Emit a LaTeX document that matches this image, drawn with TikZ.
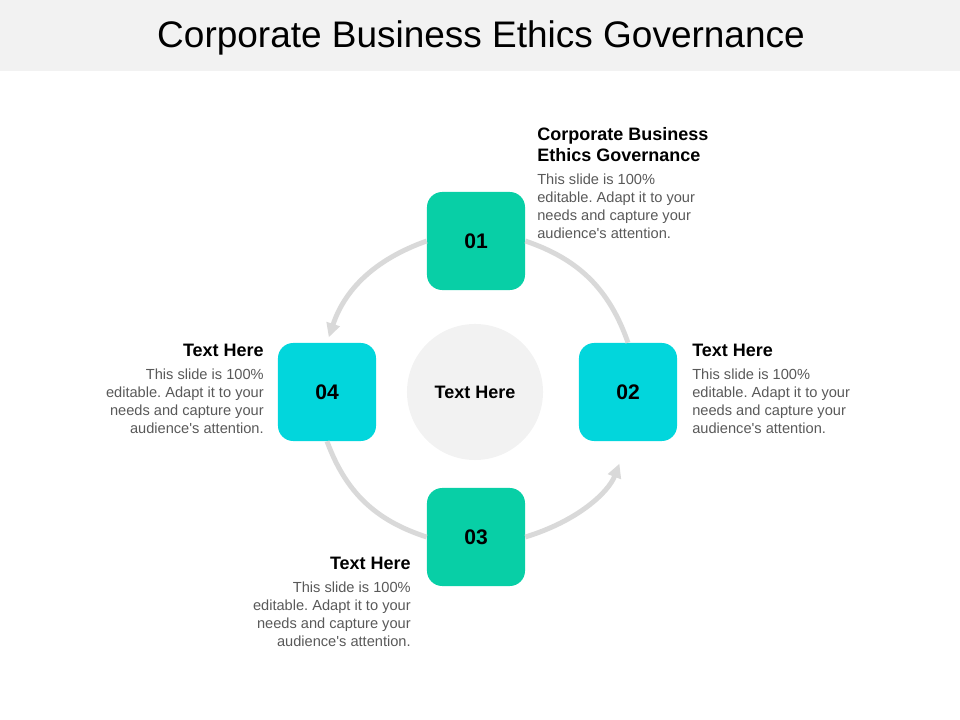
\documentclass[tikz,border=0pt]{standalone}
\usepackage{fontspec}
\setmainfont{Liberation Sans}
\usetikzlibrary{arrows.meta,
                positioning}
\definecolor{band}{RGB}{242,242,242}
\definecolor{tealbox}{RGB}{8,207,166}
\definecolor{cyanbox}{RGB}{2,214,220}
\definecolor{ring}{RGB}{217,217,217}
\definecolor{bodygray}{RGB}{89,89,89}
\frenchspacing
\tikzset{
  numbox/.style={%
    rounded corners=0.38cm,
    minimum width=2.45cm,
    minimum height=2.45cm,
    inner sep=0,
    font=\fontsize{15}{18}\selectfont\bfseries,
  },
  ringarc/.style={draw=ring, line width=3.5pt},
  headtext/.style={inner sep=0, font=\fontsize{12.8}{15}\selectfont\bfseries},
  bodytext/.style={inner sep=0, text=bodygray, font=\fontsize{10.4}{12.6}\selectfont},
}
\newcommand\slidebody{This slide is 100\%\\editable. Adapt it to your\\needs and capture your\\audience\textquotesingle s attention.}

\begin{document}
\begin{tikzpicture}[x=0.025cm, y=-0.025cm]
    \useasboundingbox (0,0) rectangle (960,720);
    % title band
    \fill[band] (0,0) rectangle (960,71);
    \node (title) at (481,38) {\fontsize{26.3}{30}\selectfont Corporate Business Ethics Governance};
    % hub and boxes
    \node[circle, fill=band, minimum size=3.4cm, inner sep=0, font=\fontsize{12.8}{15}\selectfont\bfseries] (hub) at (475,392) {Text Here};
    \node[numbox, fill=tealbox] (n1) at (476,241) {01};
    \node[numbox, fill=cyanbox] (n2) at (628,392) {02};
    \node[numbox, fill=tealbox] (n3) at (476,537) {03};
    \node[numbox, fill=cyanbox] (n4) at (327,392) {04};
    % ring
    \draw[ringarc, -{Triangle[length=10pt,width=9.5pt]}, shorten >=4pt] (n1.west) to[bend right=26] (n4.north);
    \draw[ringarc] (n1.east) to[bend left=26] (n2.north);
    \draw[ringarc] (n4.south) to[bend right=26] (n3.west);
    \draw[ringarc, -{Triangle[length=10pt,width=9.5pt]}, shorten >=17pt] (n3.east) to[bend right=26] (n2.south);
    % texts
    \node[headtext, anchor=north west, align=left] (h1) at (537,127) {Corporate Business\\Ethics Governance};
    \node[bodytext, anchor=north west, align=left] (b1) at (537,174) {\slidebody};
    \node[headtext, anchor=base west] (h2) at (692,357) {Text Here};
    \node[bodytext, anchor=north west, align=left] (b2) at (692,369) {\slidebody};
    \node[headtext, anchor=base east] (h3) at (411,570) {Text Here};
    \node[bodytext, anchor=north east, align=right] (b3) at (411,582) {\slidebody};
    \node[headtext, anchor=base east] (h4) at (264,357) {Text Here};
    \node[bodytext, anchor=north east, align=right] (b4) at (264,369) {\slidebody};
\end{tikzpicture}
\end{document}
